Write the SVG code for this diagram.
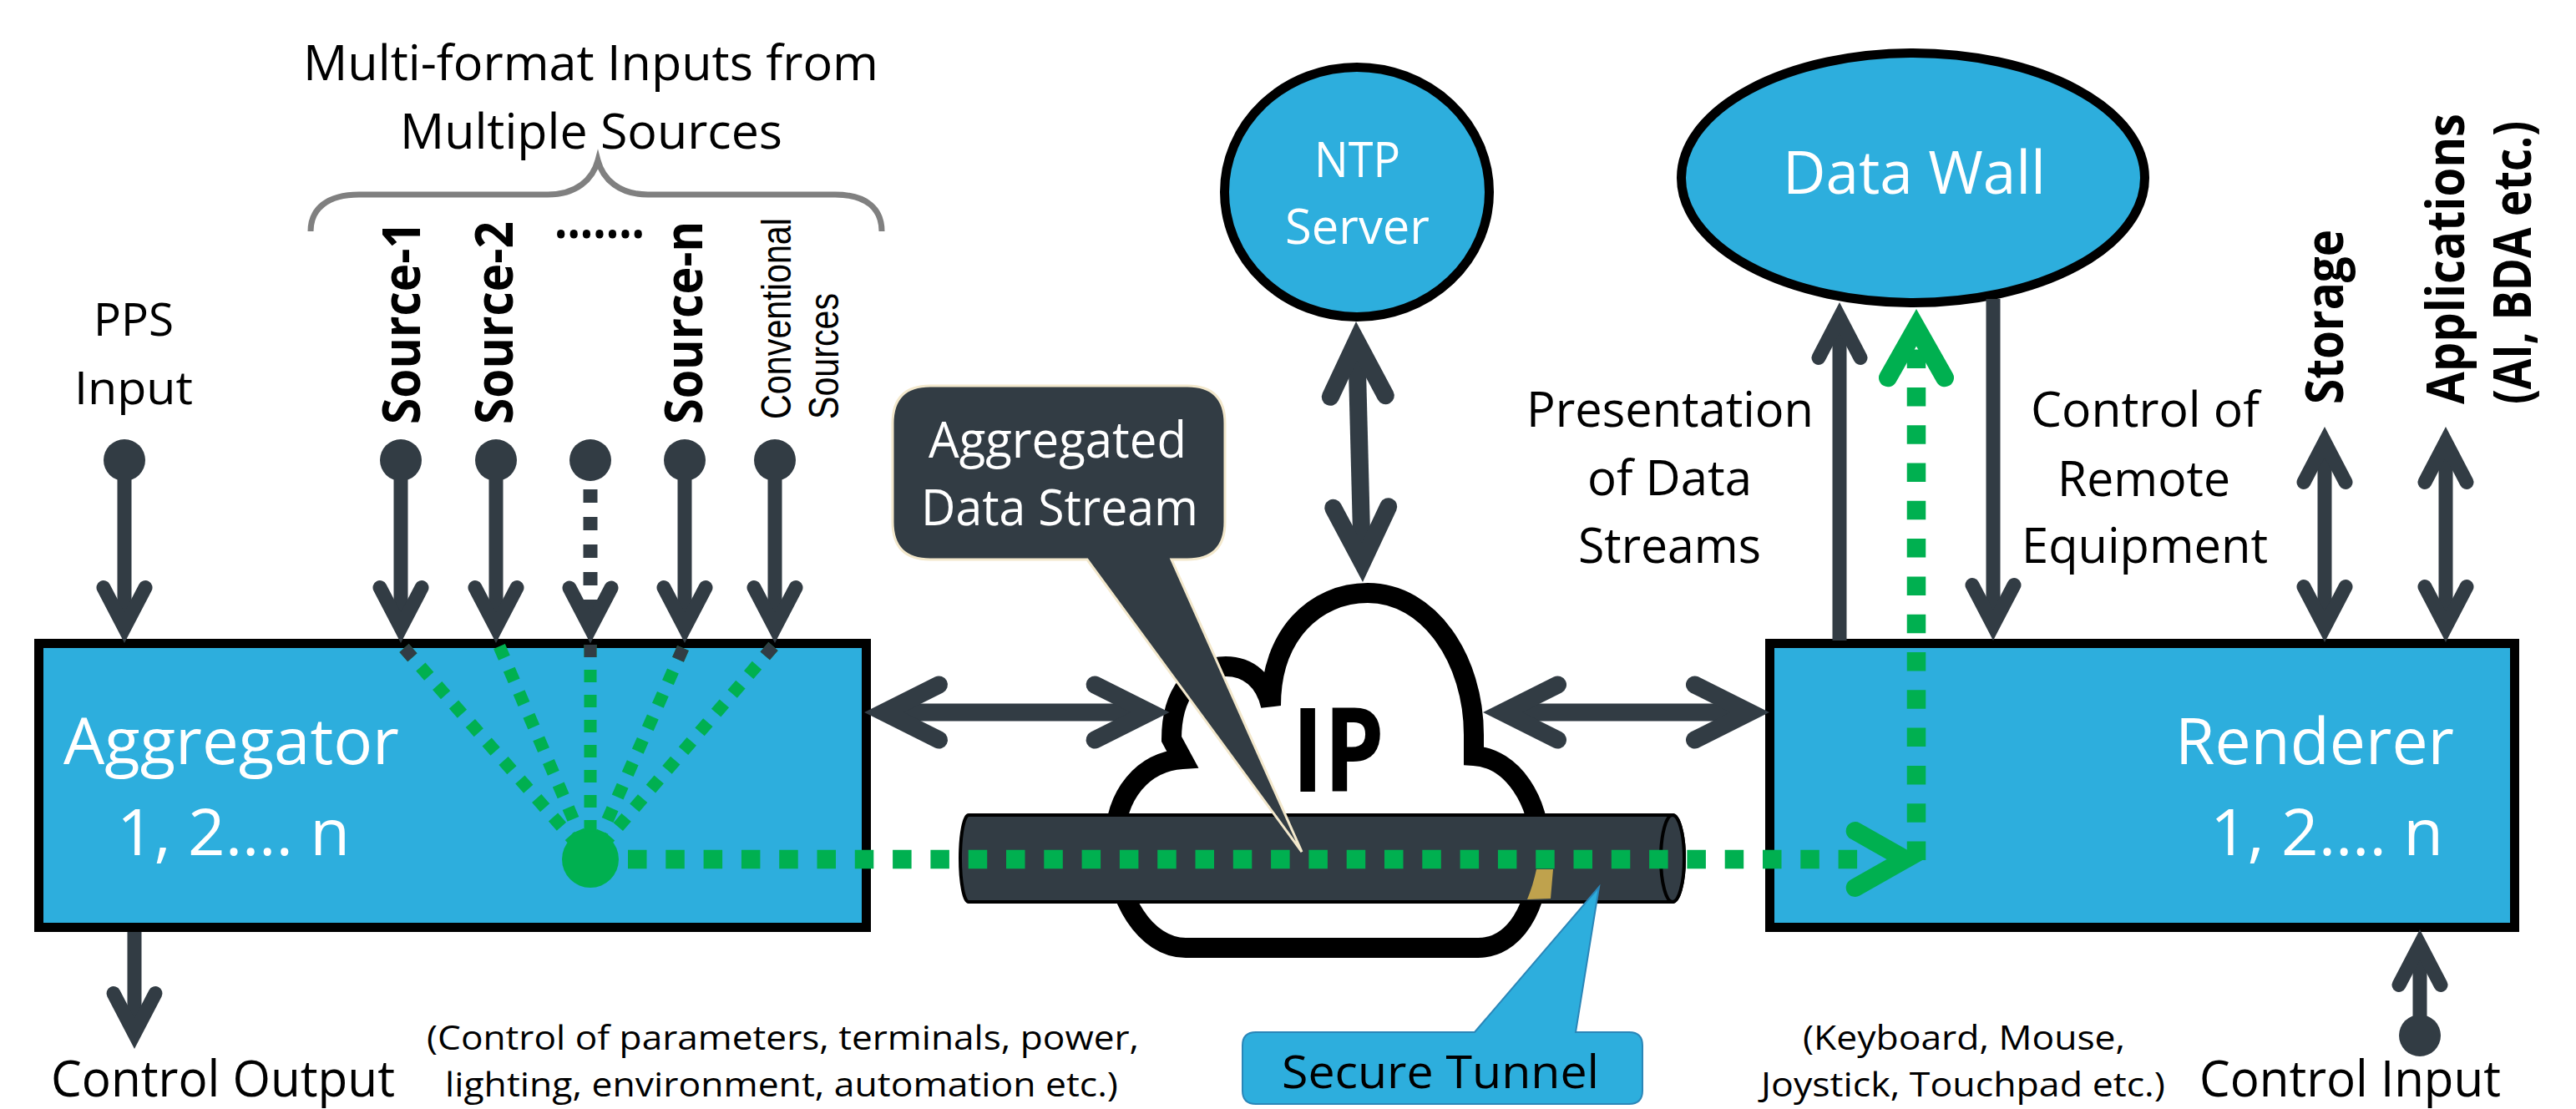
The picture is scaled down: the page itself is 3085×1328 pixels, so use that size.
<svg xmlns="http://www.w3.org/2000/svg" width="3085" height="1328" viewBox="0 0 3085 1328">
<defs>
<style>
.t{font-family:"Open Sans","Noto Sans",sans-serif;font-size:58px;fill:#000}
.w{fill:#fff}
.b{font-weight:bold}
.c{font-family:"Liberation Sans",Arial,sans-serif;font-size:50px}
.box{fill:#2DAEDD;stroke:#000;stroke-width:11}
.ln{fill:none;stroke:#323C44;stroke-width:17}
.lnb{fill:none;stroke:#323C44;stroke-width:21}
.gd{fill:none;stroke:#00B050;stroke-width:15;stroke-dasharray:15 15}
.gh{fill:none;stroke:#00B050;stroke-width:22.5;stroke-dasharray:22.5 22.8}
.sq{fill:none;stroke:#323C44;stroke-width:15}
.dot{fill:#323C44}
</style>
<marker id="ah" markerUnits="userSpaceOnUse" orient="auto-start-reverse" overflow="visible" refX="0" refY="0" markerWidth="1" markerHeight="1">
<path d="M-48,-25 L0,0 L-48,25" fill="none" stroke="#323C44" stroke-width="17" stroke-linecap="round" stroke-linejoin="miter"/>
</marker>
<marker id="ahb" markerUnits="userSpaceOnUse" orient="auto-start-reverse" overflow="visible" refX="0" refY="0" markerWidth="1" markerHeight="1">
<path d="M-66,-33 L0,0 L-66,33" fill="none" stroke="#323C44" stroke-width="21" stroke-linecap="round" stroke-linejoin="miter"/>
</marker>
<marker id="ahg" markerUnits="userSpaceOnUse" orient="auto" overflow="visible" refX="0" refY="0" markerWidth="1" markerHeight="1">
<path d="M-60,-34 L0,0 L-60,34" fill="none" stroke="#00B050" stroke-width="22" stroke-linecap="round" stroke-linejoin="miter"/>
</marker>
</defs>
<rect width="3085" height="1328" fill="#fff"/>

<!-- header labels -->
<g id="inputs-label">
<text class="t" x="363" y="96" textLength="689" lengthAdjust="spacingAndGlyphs">Multi-format Inputs from</text>
<text class="t" x="479" y="178" textLength="458" lengthAdjust="spacingAndGlyphs">Multiple Sources</text>
<path d="M372,277 C372,250 392,233 430,233 L656,233 C690,233 710,215 716,192 C722,215 742,233 776,233 L1000,233 C1038,233 1056,250 1056,277" fill="none" stroke="#808080" stroke-width="7"/>
</g>

<g id="pps-input">
<text class="t" x="112" y="402" style="font-size:55px" textLength="96" lengthAdjust="spacingAndGlyphs">PPS</text>
<text class="t" x="89" y="484" style="font-size:55px" textLength="142" lengthAdjust="spacingAndGlyphs">Input</text>
<circle class="dot" cx="149" cy="551" r="25"/>
</g>

<g id="source-1">
<text class="t b" style="font-size:63px" transform="translate(503,508) rotate(-90)" textLength="243" lengthAdjust="spacingAndGlyphs">Source-1</text>
<circle class="dot" cx="480" cy="551" r="25"/>
</g>
<g id="source-2">
<text class="t b" style="font-size:63px" transform="translate(614,508) rotate(-90)" textLength="243" lengthAdjust="spacingAndGlyphs">Source-2</text>
<circle class="dot" cx="594" cy="551" r="25"/>
</g>
<g id="source-dots">
<text class="t b" style="font-size:63px" x="664" y="285" textLength="108" lengthAdjust="spacingAndGlyphs">.......</text>
<circle class="dot" cx="707" cy="551" r="25"/>
</g>
<g id="source-n">
<text class="t b" style="font-size:63px" transform="translate(841,508) rotate(-90)" textLength="243" lengthAdjust="spacingAndGlyphs">Source-n</text>
<circle class="dot" cx="820" cy="551" r="25"/>
</g>
<g id="conventional-sources">
<text class="c" transform="translate(947,502) rotate(-90)" textLength="241" lengthAdjust="spacingAndGlyphs">Conventional</text>
<text class="c" transform="translate(1004,502) rotate(-90)" textLength="151" lengthAdjust="spacingAndGlyphs">Sources</text>
<circle class="dot" cx="928" cy="551" r="25"/>
</g>

<g id="presentation-label">
<text class="t" x="1828" y="511" textLength="344" lengthAdjust="spacingAndGlyphs">Presentation</text>
<text class="t" x="1901" y="593" textLength="197" lengthAdjust="spacingAndGlyphs">of Data</text>
<text class="t" x="1890" y="674" textLength="219" lengthAdjust="spacingAndGlyphs">Streams</text>
</g>
<g id="control-remote-label">
<text class="t" x="2432" y="511" textLength="274" lengthAdjust="spacingAndGlyphs">Control of</text>
<text class="t" x="2464" y="594" textLength="207" lengthAdjust="spacingAndGlyphs">Remote</text>
<text class="t" x="2421" y="674" textLength="295" lengthAdjust="spacingAndGlyphs">Equipment</text>
</g>
<g id="storage">
<text class="t b" style="font-size:63px" transform="translate(2806,484) rotate(-90)" textLength="209" lengthAdjust="spacingAndGlyphs">Storage</text>
</g>
<g id="applications">
<text class="t b" style="font-size:63px" transform="translate(2951,484) rotate(-90)" textLength="348" lengthAdjust="spacingAndGlyphs">Applications</text>
<text class="t b" style="font-size:63px" transform="translate(3031,484) rotate(-90)" textLength="339" lengthAdjust="spacingAndGlyphs">(AI, BDA etc.)</text>
</g>

<!-- cloud -->
<g id="ip-cloud">
<path d="M1420,1135 C1372,1135 1335,1075 1335,1010 C1335,950 1370,912 1416,909 L1403,885 C1403,830 1430,798 1468,798 C1495,798 1515,815 1522,845 C1522,760 1575,710 1638,710 C1712,710 1765,790 1765,880 L1765,905 C1812,908 1844,960 1844,1015 C1844,1090 1812,1135 1770,1135 Z" fill="#fff" stroke="#000" stroke-width="24" stroke-linejoin="miter"/>
<text class="t b" x="1547" y="948" style="font-size:140px" textLength="111" lengthAdjust="spacingAndGlyphs">IP</text>
</g>

<g id="aggregator">
<rect class="box" x="46.5" y="770.5" width="991" height="340"/>
<text class="t w" x="76" y="915" style="font-size:77px" textLength="402" lengthAdjust="spacingAndGlyphs">Aggregator</text>
<text class="t w" x="140" y="1024" style="font-size:77px" textLength="279" lengthAdjust="spacingAndGlyphs">1, 2…. n</text>
</g>

<g id="renderer">
<rect class="box" x="2119.5" y="770.5" width="892" height="340"/>
<text class="t w" x="2605" y="915" style="font-size:77px" textLength="334" lengthAdjust="spacingAndGlyphs">Renderer</text>
<text class="t w" x="2647" y="1024" style="font-size:77px" textLength="279" lengthAdjust="spacingAndGlyphs">1, 2…. n</text>
</g>

<g id="ntp-server">
<ellipse cx="1625" cy="230" rx="158.5" ry="149.5" fill="#2DAEDD" stroke="#000" stroke-width="11"/>
<text class="t w" x="1574" y="212" textLength="103" lengthAdjust="spacingAndGlyphs">NTP</text>
<text class="t w" x="1539" y="292" textLength="173" lengthAdjust="spacingAndGlyphs">Server</text>
</g>

<g id="data-wall">
<ellipse cx="2291" cy="213" rx="277.5" ry="149.5" fill="#2DAEDD" stroke="#000" stroke-width="11"/>
<text class="t w" x="2135" y="232" style="font-size:72px" textLength="315" lengthAdjust="spacingAndGlyphs">Data Wall</text>
</g>

<g id="control-output">
<text class="t" x="61" y="1313" style="font-size:60px" textLength="412" lengthAdjust="spacingAndGlyphs">Control Output</text>
<text class="t" x="511" y="1257" style="font-size:41px" textLength="853" lengthAdjust="spacingAndGlyphs">(Control of parameters, terminals, power,</text>
<text class="t" x="533" y="1313" style="font-size:41px" textLength="806" lengthAdjust="spacingAndGlyphs">lighting, environment, automation etc.)</text>
</g>

<g id="control-input">
<text class="t" x="2159" y="1257" style="font-size:41px" textLength="386" lengthAdjust="spacingAndGlyphs">(Keyboard, Mouse,</text>
<text class="t" x="2109" y="1313" style="font-size:41px" textLength="484" lengthAdjust="spacingAndGlyphs">Joystick, Touchpad etc.)</text>
<text class="t" x="2634" y="1313" style="font-size:60px" textLength="361" lengthAdjust="spacingAndGlyphs">Control Input</text>
<circle class="dot" cx="2898" cy="1240" r="25"/>
</g>

<!-- connectors -->
<g id="connectors">
<path class="ln" d="M149,551 V751.6" marker-end="url(#ah)"/>
<path class="ln" d="M480,551 V751.6" marker-end="url(#ah)"/>
<path class="ln" d="M594,551 V751.6" marker-end="url(#ah)"/>
<path class="ln" d="M707,586 V752" stroke-dasharray="16 17" marker-end="url(#ah)"/>
<path class="ln" d="M820,551 V751.6" marker-end="url(#ah)"/>
<path class="ln" d="M928,551 V751.6" marker-end="url(#ah)"/>
<path class="ln" d="M161,1116 V1237.6" marker-end="url(#ah)"/>
<path class="ln" d="M2203,767 V380.4" marker-end="url(#ah)"/>
<path class="ln" d="M2387,358 V748.6" marker-end="url(#ah)"/>
<path class="ln" d="M2784,529.4 V750.6" marker-start="url(#ah)" marker-end="url(#ah)"/>
<path class="ln" d="M2929,529.4 V750.6" marker-start="url(#ah)" marker-end="url(#ah)"/>
<path class="ln" d="M2898,1240 V1131.4" marker-end="url(#ah)"/>
<path class="lnb" d="M1058.5,853 H1377.1" marker-start="url(#ahb)" marker-end="url(#ahb)"/>
<path class="lnb" d="M1799.5,853 H2095.5" marker-start="url(#ahb)" marker-end="url(#ahb)"/>
<path class="lnb" d="M1624.6,408.5 L1631.4,673.5" marker-start="url(#ahb)" marker-end="url(#ahb)"/>
</g>

<g id="secure-tunnel-pipe">
<path d="M1160,976 H2003 A14,52 0 0 1 2003,1080 H1160 A10,52 0 0 1 1160,976 Z" fill="#323C44" stroke="#000" stroke-width="4"/>
<ellipse cx="2003" cy="1028" rx="14" ry="52" fill="#323C44" stroke="#000" stroke-width="4"/>
<path d="M1840,1041 L1860,1041 L1857,1076 L1829,1077 Q1836,1060 1840,1041 Z" fill="#BFA24D"/>
</g>

<g id="aggregated-callout">
<path d="M1114,462 H1422 Q1467,462 1467,507 V625 Q1467,670 1422,670 H1403 L1559,1020 L1302,670 H1114 Q1069,670 1069,625 V507 Q1069,462 1114,462 Z" fill="#323C44" stroke="#F3E8CC" stroke-width="3"/>
<text class="t w" x="1112" y="548" style="font-size:60px" textLength="309" lengthAdjust="spacingAndGlyphs">Aggregated</text>
<text class="t w" x="1103" y="629" style="font-size:60px" textLength="332" lengthAdjust="spacingAndGlyphs">Data Stream</text>
</g>

<g id="secure-tunnel-callout">
<path d="M1504,1236 H1766 L1915,1062 L1887,1236 H1951 Q1967,1236 1967,1252 V1306 Q1967,1322 1951,1322 H1504 Q1488,1322 1488,1306 V1252 Q1488,1236 1504,1236 Z" fill="#2DAEDD" stroke="#2A86B8" stroke-width="2"/>
<text class="t" x="1535" y="1303" style="font-size:55px" textLength="380" lengthAdjust="spacingAndGlyphs">Secure Tunnel</text>
</g>

<g id="data-flow">
<path class="gd" d="M484,776 L707,1029"/>
<path class="gd" d="M598,774 L707,1029"/>
<path class="gd" d="M707,772 V1029"/>
<path class="gd" d="M818,776 L707,1029"/>
<path class="gd" d="M926,774 L707,1029"/>
<path class="sq" d="M484,776 L493.9,787.3"/>
<path class="sq" d="M707,772 V787"/>
<path class="sq" d="M818,776 L812,789.7"/>
<path class="sq" d="M926,774 L916.2,785.4"/>
<circle cx="707" cy="1029" r="34" fill="#00B050"/>
<path class="gh" d="M752,1029 H2226"/>
<path d="M2270,1029 H2281.7" fill="none" stroke="none" marker-end="url(#ahg)"/>
<path class="gh" d="M2295,1030 V392.3" marker-end="url(#ahg)"/>
</g>
</svg>
